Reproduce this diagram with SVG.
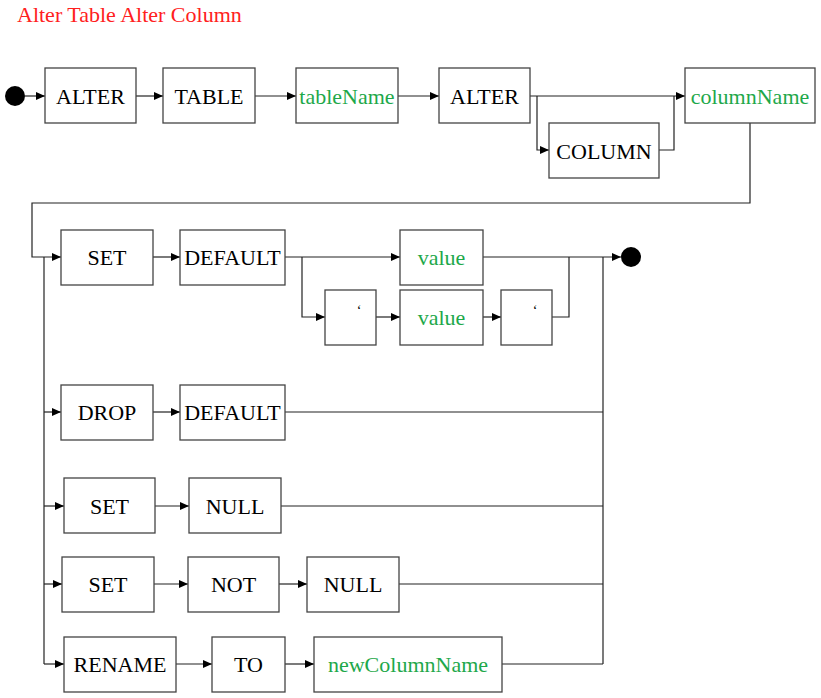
<svg xmlns="http://www.w3.org/2000/svg" width="821" height="698" viewBox="0 0 821 698">
<style>
.box{fill:#fff;stroke:#444;stroke-width:1.3}
.t{font-family:"Liberation Serif","Times New Roman",serif;font-size:22px;text-anchor:middle;fill:#000}
.g{fill:#1ea84a}
.q{font-family:"Liberation Serif","Times New Roman",serif;font-size:14px;text-anchor:middle;fill:#000}
.c{fill:none;stroke:#222;stroke-width:1.2}
.a{marker-end:url(#arr)}
.title{font-family:"Liberation Serif","Times New Roman",serif;font-size:22px;fill:#ff2020}
</style>
<defs>
<marker id="arr" markerUnits="userSpaceOnUse" markerWidth="9" markerHeight="8" refX="9" refY="4" orient="auto">
<path d="M0,0 L9,4 L0,8 z" fill="#000"/>
</marker>
</defs>
<rect width="821" height="698" fill="#fff"/>
<text class="title" x="17" y="22">Alter Table Alter Column</text>

<g id="connectors">
<path class="c a" d="M25,96 H45"/>
<path class="c a" d="M136,96 H163"/>
<path class="c a" d="M255,96 H296"/>
<path class="c a" d="M398,96 H439"/>
<path class="c a" d="M530,96 H685"/>
<path class="c a" d="M537,96 V150 H549"/>
<path class="c" d="M659,150 H674 V96"/>
<path class="c a" d="M750,123 V203 H32 V257 H61"/>
<path class="c" d="M44,257 V664"/>
<path class="c a" d="M44,412 H61"/>
<path class="c a" d="M44,506 H64"/>
<path class="c a" d="M44,584 H62"/>
<path class="c a" d="M44,664 H64"/>
<path class="c a" d="M153,257 H180"/>
<path class="c a" d="M285,257 H400"/>
<path class="c a" d="M302,257 V317 H325"/>
<path class="c a" d="M376,317 H400"/>
<path class="c a" d="M483,317 H501"/>
<path class="c" d="M552,317 H569 V257"/>
<path class="c a" d="M483,257 H621"/>
<path class="c" d="M603,257 V664"/>
<path class="c a" d="M153,412 H180"/>
<path class="c" d="M285,412 H603"/>
<path class="c a" d="M155,506 H189"/>
<path class="c" d="M281,506 H603"/>
<path class="c a" d="M154,584 H188"/>
<path class="c a" d="M279,584 H307"/>
<path class="c" d="M399,584 H603"/>
<path class="c a" d="M176,664 H212"/>
<path class="c a" d="M285,664 H314"/>
<path class="c" d="M502,664 H603"/>
</g>

<g id="start"><circle cx="15" cy="96" r="10" fill="#000"/></g>
<g id="end"><circle cx="631" cy="257" r="10" fill="#000"/></g>

<g id="n-alter1"><rect class="box" x="45" y="68" width="91" height="55"/><text class="t" x="90.5" y="104">ALTER</text></g>
<g id="n-table"><rect class="box" x="163" y="68" width="92" height="55"/><text class="t" x="209" y="104">TABLE</text></g>
<g id="n-tablename"><rect class="box" x="296" y="68" width="102" height="55"/><text class="t g" x="347" y="104">tableName</text></g>
<g id="n-alter2"><rect class="box" x="439" y="68" width="91" height="55"/><text class="t" x="484.5" y="104">ALTER</text></g>
<g id="n-column"><rect class="box" x="549" y="123" width="110" height="55"/><text class="t" x="604" y="159">COLUMN</text></g>
<g id="n-columnname"><rect class="box" x="685" y="68" width="130" height="55"/><text class="t g" x="750" y="104">columnName</text></g>

<g id="n-set1"><rect class="box" x="61" y="230" width="92" height="55"/><text class="t" x="107" y="265">SET</text></g>
<g id="n-default1"><rect class="box" x="180" y="230" width="105" height="55"/><text class="t" x="232.5" y="265">DEFAULT</text></g>
<g id="n-value1"><rect class="box" x="400" y="230" width="83" height="55"/><text class="t g" x="441.5" y="265">value</text></g>
<g id="n-quote1"><rect class="box" x="325" y="290" width="51" height="55"/><text class="q" x="359" y="315">‘</text></g>
<g id="n-value2"><rect class="box" x="400" y="290" width="83" height="55"/><text class="t g" x="441.5" y="325">value</text></g>
<g id="n-quote2"><rect class="box" x="501" y="290" width="51" height="55"/><text class="q" x="535" y="315">‘</text></g>

<g id="n-drop"><rect class="box" x="61" y="385" width="92" height="55"/><text class="t" x="107" y="420">DROP</text></g>
<g id="n-default2"><rect class="box" x="180" y="385" width="105" height="55"/><text class="t" x="232.5" y="420">DEFAULT</text></g>

<g id="n-set2"><rect class="box" x="64" y="478" width="91" height="55"/><text class="t" x="109.5" y="514">SET</text></g>
<g id="n-null1"><rect class="box" x="189" y="478" width="92" height="55"/><text class="t" x="235" y="514">NULL</text></g>

<g id="n-set3"><rect class="box" x="62" y="557" width="92" height="55"/><text class="t" x="108" y="592">SET</text></g>
<g id="n-not"><rect class="box" x="188" y="557" width="91" height="55"/><text class="t" x="233.5" y="592">NOT</text></g>
<g id="n-null2"><rect class="box" x="307" y="557" width="92" height="55"/><text class="t" x="353" y="592">NULL</text></g>

<g id="n-rename"><rect class="box" x="64" y="637" width="112" height="55"/><text class="t" x="120" y="672">RENAME</text></g>
<g id="n-to"><rect class="box" x="212" y="637" width="73" height="55"/><text class="t" x="248.5" y="672">TO</text></g>
<g id="n-newcolumnname"><rect class="box" x="314" y="637" width="188" height="55"/><text class="t g" x="408" y="672">newColumnName</text></g>
</svg>
